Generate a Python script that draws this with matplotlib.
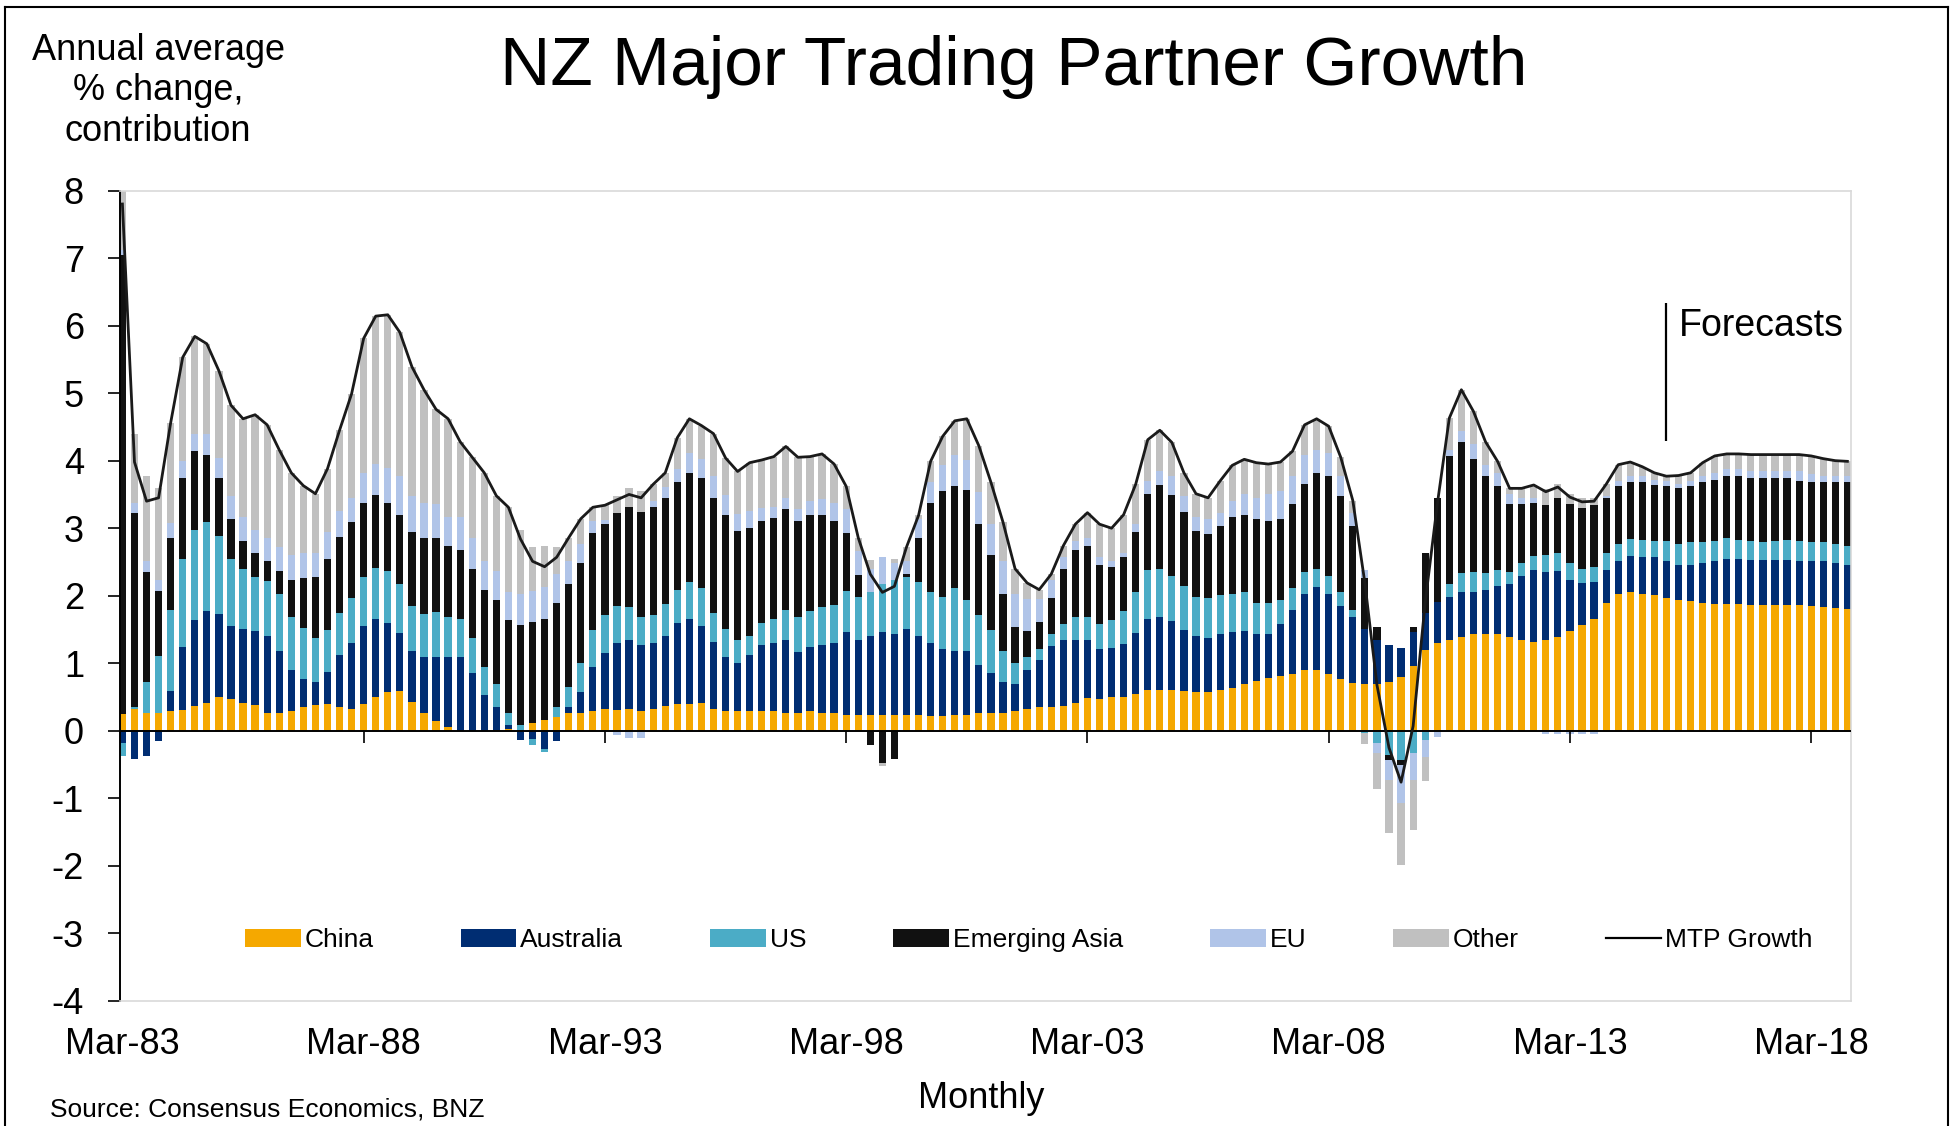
import numpy as np
import matplotlib
matplotlib.use("Agg")
import matplotlib.pyplot as plt
from matplotlib.lines import Line2D
from matplotlib.patches import Patch

plt.rcParams['font.family'] = ['Liberation Sans', 'DejaVu Sans']
plt.rcParams['axes.unicode_minus'] = False

# ── data: quarterly contributions, Mar-83 .. Dec-18 ───────────────────────────
tick_labels = ['Mar-83', 'Mar-88', 'Mar-93', 'Mar-98', 'Mar-03', 'Mar-08', 'Mar-13', 'Mar-18']
series_names = ['China', 'Australia', 'US', 'Emerging Asia', 'EU', 'Other']

china = [0.25, 0.33, 0.27, 0.26, 0.29, 0.31, 0.37, 0.41, 0.50, 0.47,
         0.41, 0.38, 0.27, 0.27, 0.30, 0.36, 0.38, 0.39, 0.36, 0.33,
         0.39, 0.50, 0.57, 0.59, 0.43, 0.26, 0.15, 0.06, 0.00, 0.00,
         0.00, 0.01, 0.03, 0.00, 0.11, 0.16, 0.20, 0.27, 0.27, 0.30,
         0.33, 0.31, 0.33, 0.30, 0.33, 0.37, 0.39, 0.39, 0.41, 0.33,
         0.30, 0.29, 0.30, 0.29, 0.30, 0.27, 0.27, 0.29, 0.27, 0.26,
         0.24, 0.23, 0.23, 0.24, 0.24, 0.23, 0.23, 0.22, 0.22, 0.23,
         0.24, 0.26, 0.26, 0.27, 0.30, 0.33, 0.35, 0.36, 0.37, 0.41,
         0.48, 0.47, 0.50, 0.50, 0.54, 0.60, 0.61, 0.60, 0.59, 0.57,
         0.57, 0.60, 0.64, 0.70, 0.74, 0.78, 0.81, 0.84, 0.90, 0.90,
         0.84, 0.77, 0.71, 0.69, 0.69, 0.72, 0.80, 0.96, 1.19, 1.30,
         1.34, 1.39, 1.43, 1.43, 1.43, 1.39, 1.35, 1.32, 1.34, 1.39,
         1.48, 1.56, 1.66, 1.89, 2.03, 2.06, 2.03, 2.01, 1.96, 1.94,
         1.92, 1.90, 1.88, 1.88, 1.88, 1.86, 1.86, 1.86, 1.86, 1.86,
         1.85, 1.84, 1.82, 1.81]

australia = [-0.18, -0.41, -0.38, -0.15, 0.30, 0.93, 1.27, 1.37, 1.23, 1.08,
             1.10, 1.10, 1.14, 0.91, 0.60, 0.41, 0.35, 0.48, 0.77, 0.97,
             1.16, 1.16, 1.03, 0.86, 0.75, 0.83, 0.95, 1.04, 1.09, 0.86,
             0.53, 0.35, 0.06, -0.14, -0.12, -0.27, -0.15, 0.09, 0.30, 0.64,
             0.82, 0.99, 1.02, 0.97, 0.97, 1.04, 1.20, 1.26, 1.14, 0.98,
             0.80, 0.72, 0.83, 0.98, 1.00, 1.07, 0.89, 0.95, 1.00, 1.04,
             1.23, 1.11, 1.18, 1.23, 1.20, 1.28, 1.18, 1.08, 0.99, 0.95,
             0.94, 0.72, 0.60, 0.46, 0.40, 0.57, 0.70, 0.90, 0.98, 0.94,
             0.87, 0.74, 0.72, 0.78, 0.91, 1.05, 1.07, 1.02, 0.90, 0.84,
             0.80, 0.83, 0.83, 0.78, 0.69, 0.66, 0.77, 0.95, 1.13, 1.23,
             1.19, 1.08, 0.97, 0.82, 0.65, 0.55, 0.42, 0.50, 0.55, 0.61,
             0.64, 0.67, 0.63, 0.66, 0.72, 0.79, 0.94, 1.06, 1.01, 0.97,
             0.76, 0.63, 0.54, 0.49, 0.49, 0.53, 0.54, 0.56, 0.56, 0.52,
             0.54, 0.58, 0.64, 0.67, 0.67, 0.67, 0.67, 0.67, 0.67, 0.66,
             0.66, 0.67, 0.67, 0.65]

us = [-0.20, 0.03, 0.46, 0.85, 1.20, 1.31, 1.33, 1.31, 1.16, 1.00,
      0.89, 0.80, 0.81, 0.85, 0.78, 0.75, 0.65, 0.62, 0.62, 0.66,
      0.73, 0.75, 0.76, 0.73, 0.67, 0.64, 0.66, 0.59, 0.56, 0.51,
      0.41, 0.34, 0.17, 0.09, -0.09, -0.04, 0.16, 0.29, 0.44, 0.55,
      0.57, 0.55, 0.49, 0.41, 0.42, 0.47, 0.50, 0.55, 0.56, 0.44,
      0.41, 0.34, 0.28, 0.33, 0.36, 0.45, 0.52, 0.54, 0.57, 0.56,
      0.60, 0.64, 0.65, 0.71, 0.80, 0.77, 0.79, 0.76, 0.77, 0.94,
      0.76, 0.74, 0.63, 0.45, 0.31, 0.19, 0.16, 0.17, 0.23, 0.34,
      0.34, 0.37, 0.42, 0.50, 0.60, 0.73, 0.71, 0.67, 0.66, 0.57,
      0.59, 0.58, 0.55, 0.57, 0.47, 0.45, 0.36, 0.32, 0.32, 0.26,
      0.26, 0.21, 0.11, -0.03, -0.18, -0.36, -0.43, -0.33, -0.14, 0.00,
      0.20, 0.28, 0.29, 0.25, 0.23, 0.17, 0.20, 0.21, 0.25, 0.27,
      0.25, 0.21, 0.23, 0.26, 0.25, 0.25, 0.26, 0.24, 0.29, 0.31,
      0.34, 0.32, 0.29, 0.30, 0.28, 0.28, 0.27, 0.28, 0.30, 0.29,
      0.28, 0.28, 0.27, 0.28]

emerging_asia = [6.80, 2.86, 1.62, 0.96, 1.06, 1.19, 1.17, 0.99, 0.85, 0.59,
                 0.41, 0.35, 0.29, 0.33, 0.56, 0.74, 0.90, 1.06, 1.12, 1.13,
                 1.10, 1.08, 1.01, 1.02, 1.10, 1.13, 1.10, 1.04, 1.03, 1.02,
                 1.15, 1.24, 1.38, 1.47, 1.50, 1.50, 1.53, 1.53, 1.48, 1.44,
                 1.34, 1.38, 1.47, 1.56, 1.60, 1.57, 1.59, 1.62, 1.63, 1.69,
                 1.68, 1.61, 1.59, 1.50, 1.49, 1.49, 1.43, 1.41, 1.35, 1.24,
                 0.86, 0.32, -0.21, -0.47, -0.41, 0.04, 0.65, 1.32, 1.57, 1.51,
                 1.63, 1.34, 1.11, 0.85, 0.53, 0.39, 0.40, 0.53, 0.82, 0.99,
                 1.04, 0.88, 0.79, 0.79, 0.89, 1.13, 1.25, 1.20, 1.09, 0.98,
                 0.95, 1.02, 1.15, 1.14, 1.23, 1.21, 1.19, 1.25, 1.30, 1.43,
                 1.48, 1.42, 1.24, 0.75, 0.20, -0.07, -0.07, 0.08, 0.90, 1.53,
                 1.89, 1.93, 1.67, 1.43, 1.25, 1.01, 0.87, 0.79, 0.74, 0.82,
                 0.87, 0.90, 0.91, 0.81, 0.86, 0.84, 0.85, 0.83, 0.82, 0.83,
                 0.83, 0.88, 0.91, 0.92, 0.94, 0.93, 0.94, 0.93, 0.91, 0.89,
                 0.90, 0.90, 0.92, 0.94]

eu = [0.07, 0.15, 0.17, 0.16, 0.22, 0.25, 0.26, 0.32, 0.30, 0.34,
      0.36, 0.34, 0.34, 0.36, 0.36, 0.37, 0.36, 0.39, 0.39, 0.36,
      0.44, 0.46, 0.52, 0.57, 0.52, 0.52, 0.50, 0.44, 0.49, 0.47,
      0.43, 0.42, 0.42, 0.46, 0.46, 0.47, 0.43, 0.34, 0.28, 0.18,
      0.06, -0.06, -0.10, -0.10, 0.08, 0.16, 0.19, 0.29, 0.28, 0.33,
      0.30, 0.25, 0.26, 0.20, 0.16, 0.17, 0.17, 0.21, 0.24, 0.27,
      0.35, 0.36, 0.34, 0.39, 0.25, 0.20, 0.29, 0.30, 0.39, 0.45,
      0.44, 0.47, 0.46, 0.49, 0.49, 0.47, 0.34, 0.28, 0.17, 0.13,
      0.13, 0.11, 0.08, 0.06, 0.12, 0.19, 0.21, 0.28, 0.23, 0.21,
      0.22, 0.20, 0.23, 0.32, 0.31, 0.41, 0.42, 0.42, 0.43, 0.34,
      0.35, 0.29, 0.20, 0.12, -0.15, -0.30, -0.57, -0.40, -0.25, -0.09,
      0.09, 0.17, 0.23, 0.17, 0.19, 0.15, 0.08, 0.06, -0.04, -0.05,
      -0.05, -0.05, -0.05, 0.03, 0.07, 0.09, 0.09, 0.08, 0.07, 0.06,
      0.07, 0.09, 0.10, 0.11, 0.10, 0.11, 0.11, 0.10, 0.11, 0.14,
      0.11, 0.09, 0.09, 0.09]

other = [1.06, 1.02, 1.25, 1.37, 1.49, 1.54, 1.44, 1.33, 1.29, 1.34,
         1.45, 1.71, 1.68, 1.44, 1.22, 1.00, 0.87, 0.94, 1.19, 1.54,
         1.99, 2.19, 2.27, 2.13, 1.92, 1.67, 1.40, 1.45, 1.11, 1.19,
         1.30, 1.12, 1.25, 0.96, 0.65, 0.61, 0.40, 0.34, 0.37, 0.20,
         0.22, 0.25, 0.29, 0.31, 0.25, 0.21, 0.47, 0.51, 0.50, 0.63,
         0.55, 0.63, 0.71, 0.71, 0.75, 0.76, 0.77, 0.66, 0.67, 0.58,
         0.34, 0.20, 0.13, -0.05, 0.06, 0.20, 0.05, 0.31, 0.42, 0.51,
         0.61, 0.69, 0.62, 0.57, 0.37, 0.24, 0.14, 0.08, 0.17, 0.25,
         0.37, 0.49, 0.49, 0.57, 0.59, 0.61, 0.60, 0.50, 0.35, 0.34,
         0.32, 0.47, 0.53, 0.51, 0.53, 0.44, 0.43, 0.36, 0.45, 0.46,
         0.39, 0.28, 0.18, -0.16, -0.53, -0.79, -0.91, -0.74, -0.35, 0.00,
         0.47, 0.61, 0.48, 0.34, 0.17, 0.08, 0.15, 0.20, 0.24, 0.21,
         0.15, 0.14, 0.11, 0.17, 0.24, 0.21, 0.14, 0.10, 0.07, 0.12,
         0.12, 0.20, 0.25, 0.22, 0.23, 0.24, 0.24, 0.25, 0.24, 0.25,
         0.27, 0.25, 0.23, 0.22]

mtp_growth = [7.80, 3.98, 3.40, 3.45, 4.56, 5.53, 5.84, 5.73, 5.33, 4.82,
              4.62, 4.68, 4.53, 4.16, 3.82, 3.63, 3.51, 3.88, 4.45, 4.99,
              5.81, 6.14, 6.16, 5.90, 5.39, 5.05, 4.76, 4.62, 4.28, 4.05,
              3.82, 3.48, 3.31, 2.84, 2.51, 2.43, 2.57, 2.86, 3.14, 3.31,
              3.34, 3.42, 3.50, 3.45, 3.65, 3.82, 4.34, 4.62, 4.52, 4.40,
              4.04, 3.84, 3.97, 4.01, 4.06, 4.21, 4.05, 4.06, 4.10, 3.95,
              3.62, 2.86, 2.32, 2.05, 2.14, 2.72, 3.19, 3.99, 4.36, 4.59,
              4.62, 4.22, 3.68, 3.09, 2.40, 2.19, 2.09, 2.32, 2.74, 3.06,
              3.23, 3.06, 3.00, 3.20, 3.65, 4.31, 4.45, 4.27, 3.82, 3.51,
              3.45, 3.70, 3.93, 4.02, 3.97, 3.95, 3.98, 4.14, 4.53, 4.62,
              4.51, 4.05, 3.41, 2.19, 0.68, -0.25, -0.76, 0.07, 1.90, 3.35,
              4.63, 5.05, 4.73, 4.28, 3.99, 3.59, 3.59, 3.64, 3.54, 3.61,
              3.46, 3.39, 3.40, 3.65, 3.94, 3.98, 3.91, 3.82, 3.77, 3.78,
              3.82, 3.97, 4.07, 4.10, 4.10, 4.09, 4.09, 4.09, 4.09, 4.09,
              4.07, 4.03, 4.00, 3.99]

forecast_start = 128          # quarter index where forecasts begin (Mar-15)
forecast_span = (4.29, 6.34)  # vertical extent of the marker line

# ── style ─────────────────────────────────────────────────────────────────────
colors = ['#F5A800', '#002D72', '#4BACC6', '#111111', '#B0C4E8', '#C0C0C0']
W, H = 1953, 1126
fig = plt.figure(figsize=(W / 100, H / 100), dpi=100)

ax = fig.add_axes([120 / W, 1 - 1001 / H, (1851 - 120) / W, (1001 - 190.5) / H])

series = [china, australia, us, emerging_asia, eu, other]
n = len(china)
x = np.arange(n)
pos_bottom = np.zeros(n)
neg_bottom = np.zeros(n)
for vals, col in zip(series, colors):
    v = np.array(vals)
    pos = np.where(v > 0, v, 0)
    neg = np.where(v < 0, v, 0)
    ax.bar(x, pos, bottom=pos_bottom, width=0.6, color=col, linewidth=0, zorder=2)
    ax.bar(x, neg, bottom=neg_bottom, width=0.6, color=col, linewidth=0, zorder=2)
    pos_bottom += pos
    neg_bottom += neg

ax.axhline(0, color='black', lw=1.4, zorder=3)
ax.plot(x, mtp_growth, color='#1a1a1a', lw=2.0, zorder=4, solid_joinstyle='round')

# small ticks hanging off the zero line every five years
tick_pos = np.arange(len(tick_labels)) * 20
ax.vlines(tick_pos[1:], -0.18, 0, color='black', lw=1.2, zorder=3)

# forecasts marker
ax.vlines(forecast_start, *forecast_span, color='black', lw=1.6, zorder=4)
ax.text(forecast_start + 1.0, 6.0, 'Forecasts', fontsize=27, va='center', ha='left')

ax.set_xlim(-0.2, 143.3)
ax.set_ylim(-4, 8)
ax.set_yticks(range(-4, 9))
ax.tick_params(axis='y', direction='out', length=9, width=1.2, labelsize=26, pad=17)
ax.set_xticks(tick_pos)
ax.set_xticklabels(tick_labels)
ax.tick_params(axis='x', length=0, labelsize=26, pad=19)

for side in ['top', 'right', 'bottom']:
    ax.spines[side].set_color('#D9D9D9')
    ax.spines[side].set_linewidth(1.2)
ax.spines['left'].set_color('black')
ax.spines['left'].set_linewidth(1.4)

# legend
handles = [Patch(facecolor=c, edgecolor='none', label=nm) for c, nm in zip(colors, series_names)]
handles.append(Line2D([0], [0], color='black', lw=1.6, label='MTP Growth'))
fig.legend(handles=handles, ncol=7, loc='center', bbox_to_anchor=(1029 / W, 1 - 940 / H),
           bbox_transform=fig.transFigure, frameon=False, fontsize=19,
           handlelength=2.1, handletextpad=0.15, columnspacing=3.3, handleheight=0.65,
           borderaxespad=0, borderpad=0)

# texts
fig.text(1014 / W, 1 - 67 / H, 'NZ Major Trading Partner Growth', fontsize=50, ha='center', va='center')
fig.text(158 / W, 1 - 91 / H, 'Annual average\n% change,\ncontribution', fontsize=26,
         ha='center', va='center', multialignment='center', linespacing=1.2)
fig.text(981 / W, 1 - 1099 / H, 'Monthly', fontsize=26, ha='center', va='center')
fig.text(50 / W, 1 - 1109 / H, 'Source: Consensus Economics, BNZ', fontsize=19, ha='left', va='center')

# outer frame
for xs, ys in [((5 / W, 5 / W), (0, 1 - 7 / H)),
               ((5 / W, 1948 / W), (1 - 7 / H, 1 - 7 / H)),
               ((1948 / W, 1948 / W), (0, 1 - 7 / H))]:
    fig.add_artist(Line2D(xs, ys, color='black', lw=1.5, transform=fig.transFigure))

fig.savefig('out.png', dpi=100)
